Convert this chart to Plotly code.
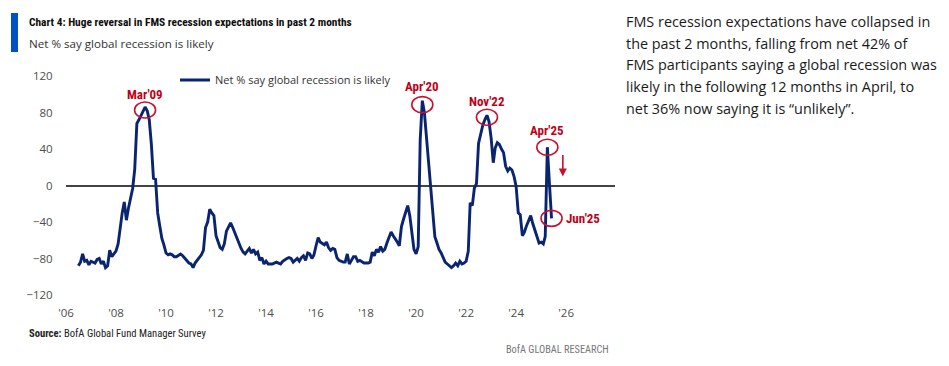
import plotly.graph_objects as go
import pandas as pd

# ---- data (monthly, Jul 2006 - Jun 2025) ----
start_month = "2006-07-01"
v2006 = [-88, -84, -75, -83, -82, -87]
v2007 = [-83, -84, -85, -81, -80, -86, -83, -90, -88, -71, -78, -75]
v2008 = [-72, -64, -45, -30, -18, -38, -25, -12, -3, 18, 68, 72]
v2009 = [77, 82, 86, 82, 72, 45, 8, 7, -30, -44, -58, -65]
v2010 = [-74, -76, -75, -76, -78, -78, -76, -75, -77, -80, -82, -85]
v2011 = [-86, -90, -85, -82, -79, -76, -71, -46, -40, -26, -30, -33]
v2012 = [-55, -62, -68, -70, -64, -50, -46, -41, -46, -52, -57, -62]
v2013 = [-69, -73, -75, -72, -69, -74, -70, -75, -73, -82, -79, -86]
v2014 = [-83, -86, -86, -86, -85, -84, -85, -86, -83, -81, -80, -79]
v2015 = [-80, -84, -82, -80, -83, -79, -77, -82, -74, -75, -80, -76]
v2016 = [-66, -57, -62, -64, -65, -62, -68, -71, -69, -70, -79, -82]
v2017 = [-83, -84, -84, -75, -86, -81, -78, -78, -83, -82, -84, -85]
v2018 = [-85, -85, -84, -73, -77, -70, -73, -67, -72, -70, -63, -56]
v2019 = [-51, -55, -58, -62, -66, -45, -37, -30, -22, -33, -52, -70]
v2020 = [-75, -67, 50, 93, 80, 52, 28, -4, -28, -56, -63, -70]
v2021 = [-74, -79, -84, -86, -88, -90, -88, -85, -88, -83, -86, -85]
v2022 = [-83, -72, -19, -22, -3, 2, 46, 56, 66, 72, 77, 70]
v2023 = [52, 25, 41, 47, 45, 40, 36, 21, 16, 19, 17, 10]
v2024 = [-1, -30, -32, -55, -51, -44, -38, -33, -42, -49, -54, -63]
v2025 = [-62, -64, -56, 42, 3, -36]

values = (v2006 + v2007 + v2008 + v2009 + v2010 + v2011 + v2012 + v2013 + v2014
          + v2015 + v2016 + v2017 + v2018 + v2019 + v2020 + v2021 + v2022 + v2023
          + v2024 + v2025)
dates = pd.date_range(start_month, periods=len(values), freq="MS")

series_name = "Net % say global recession is likely"
y_ticks = [-120, -80, -40, 0, 40, 80, 120]
x_range = ["2006-01-01", "2027-12-15"]

# highlighted points: (label, date, value)
highlights = [
    ("Mar'09", "2009-03-01", 86),
    ("Apr'20", "2020-04-01", 93),
    ("Nov'22", "2022-11-01", 77),
    ("Apr'25", "2025-04-01", 42),
    ("Jun'25", "2025-06-01", -36),
]

right_text = [
    "FMS recession expectations have collapsed in",
    "the past 2 months, falling from net 42% of",
    "FMS participants saying a global recession was",
    "likely in the following 12 months in April, to",
    "net 36% now saying it is \u201cunlikely\u201d.",
]

NAVY = "#0A2470"
RED = "#C8102E"
LABEL_RED = "#C00018"
GREY = "#4D4D4D"
NARROW = "Liberation Sans Narrow, Roboto Condensed, Roboto, sans-serif"


def px(xp):
    return (xp - 66) / 549


def py(yp):
    return (295 - yp) / 219


fig = go.Figure()
fig.add_trace(go.Scatter(
    x=dates, y=values, mode="lines", name=series_name,
    line=dict(color=NAVY, width=2.9),
))

# circles & labels
circle_off = {"Mar'09": -3, "Apr'20": -4, "Nov'22": -2, "Apr'25": 0, "Jun'25": 0}
label_shift = {"Mar'09": 13, "Apr'20": 14, "Nov'22": 14, "Apr'25": 17}
for lab, d, v in highlights:
    c = circle_off[lab]
    fig.add_shape(type="circle", xref="x", yref="y", xsizemode="pixel", ysizemode="pixel",
                  xanchor=d, yanchor=v, x0=-10.5, x1=10.5, y0=c - 8, y1=c + 8,
                  line=dict(color=RED, width=1.6))
    if lab == "Jun'25":
        fig.add_annotation(x=d, y=v, text="<b>%s</b>" % lab, showarrow=False,
                           xanchor="left", yanchor="middle", xshift=12,
                           font=dict(family=NARROW, size=13, color=LABEL_RED))
    else:
        fig.add_annotation(x=d, y=v, text="<b>%s</b>" % lab, showarrow=False,
                           xanchor="center", yanchor="middle", yshift=label_shift[lab],
                           font=dict(family=NARROW, size=13, color=LABEL_RED))

# red down arrow
fig.add_annotation(x="2025-11-13", y=10, ax=0, ay=-23, text="", showarrow=True,
                   arrowhead=2, arrowsize=1, arrowwidth=1.6, arrowcolor=RED)

# title block
fig.add_shape(type="rect", xref="paper", yref="paper",
              x0=px(11), x1=px(18), y0=py(52), y1=py(13),
              fillcolor="#0050C8", line=dict(width=0))
fig.add_annotation(xref="paper", yref="paper", x=px(27), y=py(22),
                   xanchor="left", yanchor="middle", showarrow=False,
                   text="<b>Chart 4: Huge reversal in FMS recession expectations in past 2 months</b>",
                   font=dict(family=NARROW, size=11.4, color="#0D0D0D"))
fig.add_annotation(xref="paper", yref="paper", x=px(27), y=py(43),
                   xanchor="left", yanchor="middle", showarrow=False,
                   text="Net % say global recession is likely",
                   font=dict(family="Open Sans, sans-serif", size=11.6, color="#333333"))

# footer
fig.add_annotation(xref="paper", yref="paper", x=px(27), y=py(333),
                   xanchor="left", yanchor="middle", showarrow=False,
                   text="<b>Source:</b> BofA Global Fund Manager Survey",
                   font=dict(family=NARROW, size=10.6, color="#222222"))
fig.add_annotation(xref="paper", yref="paper", x=px(611), y=py(349),
                   xanchor="right", yanchor="middle", showarrow=False,
                   text="BofA GLOBAL RESEARCH",
                   font=dict(family=NARROW, size=10.3, color="#777777"))

# right commentary
for i, line in enumerate(right_text):
    fig.add_annotation(xref="paper", yref="paper", x=px(624),
                       y=py(22 + 21.5 * i),
                       xanchor="left", yanchor="middle", showarrow=False, text=line,
                       font=dict(family="Open Sans, sans-serif", size=14.4, color="#1A1A1A"))

# page body has an 8px margin: size the figure so it ends at the window edge
fig.update_layout(
    width=941, height=358,
    margin=dict(l=58, r=334, t=68, b=71),
    paper_bgcolor="white", plot_bgcolor="white",
    showlegend=True,
    legend=dict(x=px(175), y=py(80), xanchor="left", yanchor="middle",
                bgcolor="rgba(0,0,0,0)",
                font=dict(family="Open Sans, sans-serif", size=11, color="#333333"),
                itemwidth=30),
    xaxis=dict(type="date", range=x_range, tickformat="'%y", dtick="M24", tick0="2006-01-01",
               showgrid=False, showline=False, zeroline=False,
               ticks="outside", ticklen=7, tickcolor="rgba(0,0,0,0)",
               tickfont=dict(family="Open Sans, sans-serif", size=11.5, color=GREY)),
    yaxis=dict(range=[-120, 120], tickvals=y_ticks, showgrid=False, showline=False,
               zeroline=True, zerolinecolor="#444444", zerolinewidth=1.5,
               ticks="outside", ticklen=10, tickcolor="rgba(0,0,0,0)",
               tickfont=dict(family="Open Sans, sans-serif", size=11.5, color=GREY)),
)

fig.write_html("out.html")
